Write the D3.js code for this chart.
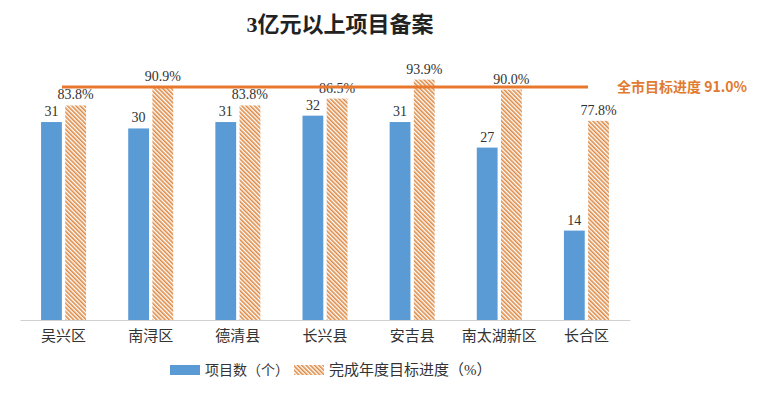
<!DOCTYPE html>
<html>
<head>
<meta charset="utf-8">
<script src="https://cdn.jsdelivr.net/npm/d3@7"></script>
<style>
  body { margin: 0; background: #fff; }
  svg { display: block; }
</style>
</head>
<body>
<div id="chart"></div>
<script>
// Data
var categories = ["吴兴区", "南浔区", "德清县", "长兴县", "安吉县", "南太湖新区", "长合区"];
var projectCounts = [31, 30, 31, 32, 31, 27, 14];
var progressPct = [83.8, 90.9, 83.8, 86.5, 93.9, 90.0, 77.8];
var cityTarget = 91.0;
var seriesNames = ["项目数（个）", "完成年度目标进度（%）"];

var width = 768, height = 395;
var serif = "'Liberation Serif', 'Times New Roman', 'Noto Sans CJK SC', serif";
var blue = "#5B9BD5", orange = "#E07B2F";

var svg = d3.select("#chart").append("svg")
    .attr("width", width)
    .attr("height", height);

// hatch pattern for the progress bars
var defs = svg.append("defs");
var pat = defs.append("pattern")
    .attr("id", "hatch")
    .attr("patternUnits", "userSpaceOnUse")
    .attr("width", 3).attr("height", 3)
    .attr("patternTransform", "rotate(-45)");
pat.append("rect").attr("width", 3).attr("height", 3).attr("fill", "#fff");
pat.append("rect").attr("x", 0).attr("y", 0).attr("width", 1.6).attr("height", 3).attr("fill", "#DD8A45");

var x = d3.scaleBand()
    .domain(categories)
    .range([20, 630]);

var inner = d3.scaleBand()
    .domain([0, 1])
    .range([x.bandwidth() / 2 - 22.5, x.bandwidth() / 2 + 22.5])
    .paddingInner(0.14);

var yCount = d3.scaleLinear().domain([0, 35]).range([320, 96.5]);
var yPct = d3.scaleLinear().domain([0, 100]).range([320, 64]);

// title
svg.append("text")
    .attr("x", 340).attr("y", 32)
    .attr("text-anchor", "middle")
    .attr("font-family", serif)
    .attr("font-weight", "bold")
    .attr("font-size", 22)
    .attr("fill", "#222")
    .text("3亿元以上项目备案");

// bars
var groups = svg.selectAll(".grp")
    .data(categories)
    .enter().append("g")
    .attr("transform", function(d) { return "translate(" + x(d) + ",0)"; });

groups.append("rect")
    .attr("x", inner(0))
    .attr("width", inner.bandwidth())
    .attr("y", function(d, i) { return yCount(projectCounts[i]); })
    .attr("height", function(d, i) { return yCount(0) - yCount(projectCounts[i]); })
    .attr("fill", blue);

groups.append("rect")
    .attr("x", inner(1))
    .attr("width", inner.bandwidth())
    .attr("y", function(d, i) { return yPct(progressPct[i]); })
    .attr("height", function(d, i) { return yPct(0) - yPct(progressPct[i]); })
    .attr("fill", "url(#hatch)");

groups.append("text")
    .attr("x", inner(0) + inner.bandwidth() / 2)
    .attr("y", function(d, i) { return yCount(projectCounts[i]) - 6; })
    .attr("text-anchor", "middle")
    .attr("font-family", serif)
    .attr("font-size", 14)
    .attr("fill", "#333")
    .text(function(d, i) { return projectCounts[i]; });

groups.append("text")
    .attr("x", inner(1) + inner.bandwidth() / 2)
    .attr("y", function(d, i) { return yPct(progressPct[i]) - 6; })
    .attr("text-anchor", "middle")
    .attr("font-family", serif)
    .attr("font-size", 14)
    .attr("fill", "#333")
    .text(function(d, i) { return progressPct[i].toFixed(1) + "%"; });

// x axis
var xAxis = svg.append("g")
    .attr("transform", "translate(0,320)")
    .call(d3.axisBottom(x).tickSize(0).tickPadding(10));
xAxis.select(".domain").attr("stroke", "#d0d0d0").attr("stroke-width", 1);
xAxis.selectAll("text")
    .attr("font-family", serif)
    .attr("font-size", 15)
    .attr("fill", "#333");

// city target line
svg.append("line")
    .attr("x1", 62).attr("x2", 588)
    .attr("y1", yPct(cityTarget)).attr("y2", yPct(cityTarget))
    .attr("stroke", "#E8782E")
    .attr("stroke-width", 3);

svg.append("text")
    .attr("x", 617).attr("y", yPct(cityTarget) + 5)
    .attr("font-family", "'Noto Sans CJK SC', sans-serif")
    .attr("font-weight", "bold")
    .attr("font-size", 14)
    .attr("fill", orange)
    .text("全市目标进度 " + cityTarget.toFixed(1) + "%");

// legend
var legend = svg.append("g").attr("transform", "translate(0,370)");
legend.append("rect").attr("x", 170).attr("y", -5).attr("width", 30).attr("height", 10).attr("fill", blue);
legend.append("text").attr("x", 205).attr("y", 5)
    .attr("font-family", serif).attr("font-size", 14).attr("fill", "#333")
    .text(seriesNames[0]);
legend.append("rect").attr("x", 294).attr("y", -5).attr("width", 30).attr("height", 10).attr("fill", "url(#hatch)");
legend.append("text").attr("x", 329).attr("y", 5)
    .attr("font-family", serif).attr("font-size", 15).attr("fill", "#333")
    .text(seriesNames[1]);
</script>
</body>
</html>
